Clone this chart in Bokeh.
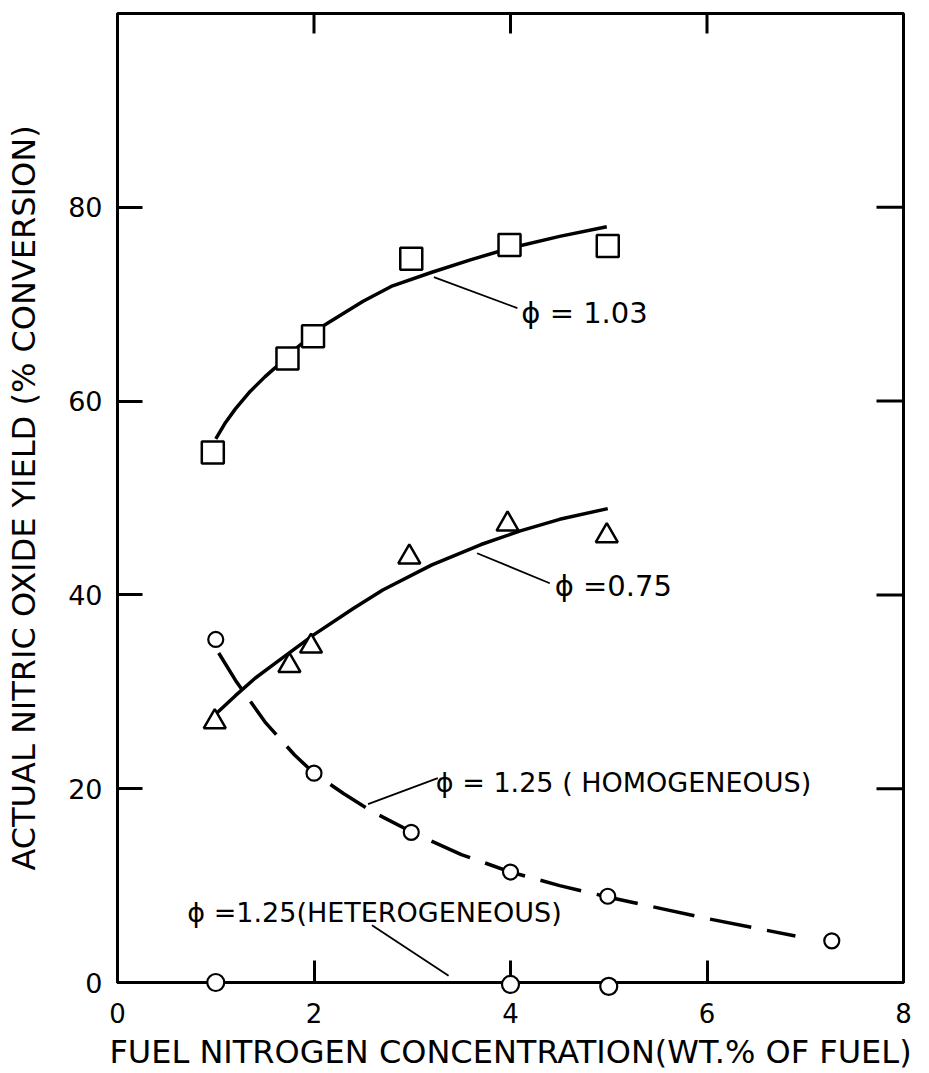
import math
from bokeh.plotting import figure
from bokeh.models import FixedTicker, Range1d, ColumnDataSource
from bokeh.embed import file_html
from bokeh.resources import INLINE
from bokeh.core.properties import value

FONT = "DejaVu Sans"

# --- data ---
# phi = 1.03 (squares) and its fitted curve
sq_x = [0.97, 1.73, 1.99, 2.99, 3.99, 4.99]
sq_y = [54.7, 64.4, 66.7, 74.7, 76.1, 76.0]
sq_fit_x = [1.0, 1.1, 1.2, 1.35, 1.5, 1.6, 1.8, 2.1, 2.5, 2.8, 3.2, 3.6, 4.0, 4.5, 4.98]
sq_fit_y = [56.1, 57.8, 59.2, 61.0, 62.5, 63.4, 65.3, 67.8, 70.3, 71.9, 73.3, 74.6, 75.8, 77.0, 78.0]

# phi = 0.75 (triangles)
tri_x = [0.99, 1.75, 1.97, 2.97, 3.97, 4.98]
tri_y = [26.9, 32.7, 34.7, 43.9, 47.3, 46.1]
tri_fit_x = [1.0, 1.2, 1.4, 1.6, 1.8, 2.0, 2.4, 2.7, 3.2, 3.7, 4.1, 4.5, 4.99]
tri_fit_y = [27.7, 29.6, 31.4, 32.9, 34.4, 35.9, 38.6, 40.5, 43.1, 45.2, 46.6, 47.8, 48.9]

# phi = 1.25 homogeneous (circles, dashed curve)
hom_x = [1.0, 2.0, 2.99, 4.0, 4.99, 7.27]
hom_y = [35.4, 21.6, 15.5, 11.4, 8.9, 4.3]
hom_fit_x = [1.03, 1.2, 1.5, 1.8, 2.0, 2.3, 2.6, 3.0, 3.5, 4.0, 4.5, 5.0, 5.5, 6.0, 6.5, 6.9]
hom_fit_y = [34.0, 31.2, 26.9, 23.5, 21.6, 19.5, 17.6, 15.5, 13.2, 11.4, 10.0, 8.8, 7.7, 6.6, 5.6, 4.8]

# phi = 1.25 heterogeneous (circles on the axis)
het_x = [1.0, 4.0, 5.0]
het_y = [0.0, -0.2, -0.4]

# curve labels and leader lines
lab_text = ["\u03d5 = 1.03", "\u03d5 =0.75", "\u03d5 = 1.25 ( HOMOGENEOUS)", "\u03d5 =1.25(HETEROGENEOUS)"]
lab_size = ["29px", "29px", "27px", "27px"]
lab_x = [4.11, 4.45, 3.24, 0.71]
lab_y = [69.1, 40.9, 20.6, 7.25]
lead_x0 = [3.22, 3.66, 2.55, 2.59]
lead_y0 = [72.8, 44.3, 18.4, 5.9]
lead_x1 = [4.07, 4.40, 3.26, 3.37]
lead_y1 = [69.6, 41.2, 21.1, 0.7]

x_ticks = [0, 2, 4, 6, 8]
y_ticks = [0, 20, 40, 60, 80]
top_ticks = [2, 4, 6]
right_ticks = [20, 40, 60, 80]

x_title = "FUEL NITROGEN CONCENTRATION(WT.% OF FUEL)"
y_title = "ACTUAL NITRIC OXIDE YIELD (% CONVERSION)"

p = figure(width=929, height=1073, x_range=Range1d(0, 8), y_range=Range1d(0, 100),
           output_backend="svg", toolbar_location=None,
           min_border_left=117, min_border_right=26, min_border_top=13, min_border_bottom=91,
           x_axis_label=x_title, y_axis_label=y_title)
p.xgrid.visible = False
p.ygrid.visible = False
p.outline_line_color = "black"
p.outline_line_width = 3
p.background_fill_color = "white"
p.border_fill_color = "white"

xa = p.xaxis[0]
xa.ticker = FixedTicker(ticks=x_ticks)
xa.major_tick_in = 22
xa.major_tick_out = 0
xa.major_tick_line_width = 3
xa.minor_tick_line_color = None
xa.axis_line_width = 3
xa.major_label_text_font = FONT
xa.major_label_text_font_size = "26px"
xa.major_label_text_color = "black"
xa.major_label_standoff = 20
xa.axis_label_text_font = FONT
xa.axis_label_text_font_size = "32px"
xa.axis_label_text_font_style = "normal"
xa.axis_label_text_color = "black"
xa.axis_label_standoff = 7

ya = p.yaxis[0]
ya.ticker = FixedTicker(ticks=y_ticks)
ya.major_tick_in = 25
ya.major_tick_out = 0
ya.major_tick_line_width = 3
ya.minor_tick_line_color = None
ya.axis_line_width = 3
ya.major_label_text_font = FONT
ya.major_label_text_font_size = "27px"
ya.major_label_text_color = "black"
ya.major_label_standoff = 15
ya.axis_label_text_font = FONT
ya.axis_label_text_font_size = "32px"
ya.axis_label_text_font_style = "normal"
ya.axis_label_text_color = "black"
ya.axis_label_standoff = 22

# inward ticks on the right and top edges
p.ray(x=[p.x_range.end] * len(right_ticks), y=right_ticks, length=27, length_units="screen",
      angle=math.pi, line_color="black", line_width=3)
p.ray(x=top_ticks, y=[p.y_range.end] * len(top_ticks), length=20, length_units="screen",
      angle=-math.pi / 2, line_color="black", line_width=3)

# curves
p.line(sq_fit_x, sq_fit_y, line_color="black", line_width=3.5)
p.line(tri_fit_x, tri_fit_y, line_color="black", line_width=3.5)
p.line(hom_fit_x, hom_fit_y, line_color="black", line_width=3.5, line_dash="42 16")

# leader lines
p.segment(x0=lead_x0, y0=lead_y0, x1=lead_x1, y1=lead_y1, line_color="black", line_width=1.8)

# markers
p.scatter(sq_x, sq_y, marker="square", size=22, fill_color="white", line_color="black", line_width=2.5)
p.scatter(tri_x, tri_y, marker="triangle", size=22, fill_color="white", line_color="black", line_width=2.5)
p.scatter(hom_x, hom_y, marker="circle", size=15, fill_color="white", line_color="black", line_width=2.2)
r_het = p.scatter(het_x, het_y, marker="circle", size=17, fill_color="white", line_color="black", line_width=2.2)
r_het.level = "overlay"

# labels
src = ColumnDataSource(dict(x=lab_x, y=lab_y, t=lab_text, s=lab_size))
p.text(x="x", y="y", text="t", source=src, text_font=value(FONT), text_font_size="s",
       text_baseline="middle", text_align="left", text_color="black")

open("out.html", "w").write(file_html(p, INLINE))
